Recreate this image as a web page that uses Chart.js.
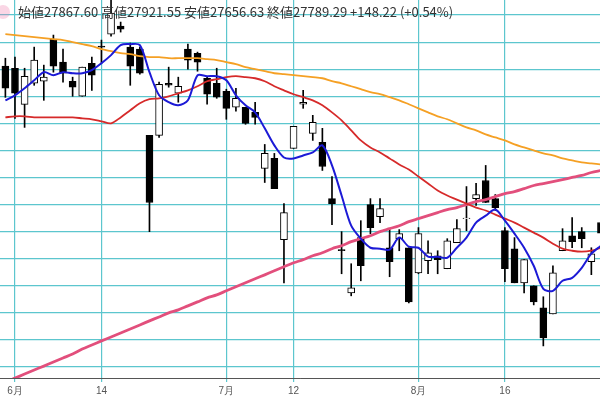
<!DOCTYPE html>
<html>
<head>
<meta charset="utf-8">
<script src="https://cdn.jsdelivr.net/npm/chart.js@4"></script>
<style>
  html, body { margin: 0; padding: 0; background: #fff; }
  #wrap { width: 600px; height: 400px; }
</style>
</head>
<body>
<div id="wrap"><canvas id="candleChart"></canvas></div>
<script>
// trading day index -1..61
const opens  = [29022,29007,28740,28896,28911,29222,29052,28911,28800,29044,29170,29259,29318,29163,29148,28511,28511,28896,28822,29148,29118,28933,28896,28837,28719,28719,28681,28267,28341,27741,28415,28741,28526,28459,28044,27667,27348,27756,28000,27911,27681,27748,27681,27496,27585,27622,27526,27718,27896,28044,28178,28044,27807,27674,27422,27400,27237,27193,27659,27770,27800,27578,27867.60];
const closes = [28859,28822,28948,29067,28941,29022,28970,28867,29015,28956,29163,29415,29296,29022,28970,28015,28889,28881,28874,29067,29052,28815,28793,28711,28785,28600,28644,28378,28118,27941,28578,28756,28607,28281,28007,27659,27385,27548,27830,27970,27578,27785,27281,27785,27644,27593,27733,27822,27901,28074,28015,27978,27526,27422,27593,27281,27015,27496,27733,27726,27748,27637,27789.29];
const highs  = [29081,29089,29007,29163,29030,29252,29148,28941,29015,29089,29215,29511,29348,29193,29163,28511,28904,29015,28941,29185,29126,28941,29007,28852,28859,28719,28756,28444,28378,28008,28578,28844,28659,28563,28207,27800,27563,27881,28044,28044,27815,27815,27681,27830,27733,27659,27748,27889,28133,28156,28289,28074,27830,27756,27593,27400,27319,27548,27822,27904,27830,27681,27921.55];
const lows   = [28792,28637,28570,28881,28770,28978,28904,28800,28800,28844,29044,29244,29274,28881,28963,27800,28496,28867,28756,29000,28985,28741,28785,28630,28689,28593,28593,28163,28118,27422,28415,28711,28474,28252,27852,27489,27326,27437,27785,27867,27467,27659,27274,27489,27489,27489,27526,27718,27807,27993,28015,27956,27430,27422,27348,27259,26956,27193,27659,27681,27681,27482,27656.63];
const ma5    = [28770,28807,28859,28918,28978,28955,28978,28970,28970,28993,29044,29104,29178,29185,29178,28978,28807,28756,28733,28770,28955,28948,28948,28918,28807,28733,28681,28563,28437,28348,28341,28363,28385,28437,28289,28067,27844,27748,27681,27674,27667,27756,27689,27681,27615,27615,27607,27681,27756,27867,27918,27963,27881,27785,27681,27548,27378,27363,27437,27459,27533,27637,27696];
const ma25   = [28644,28652,28652,28644,28644,28644,28644,28644,28637,28630,28615,28600,28644,28696,28748,28778,28785,28800,28822,28844,28874,28911,28926,28941,28948,28941,28933,28911,28874,28844,28815,28793,28770,28733,28681,28622,28548,28474,28422,28385,28341,28296,28259,28207,28156,28104,28067,28037,28007,27978,27956,27926,27896,27867,27830,27793,27756,27711,27674,27659,27652,27659,27681];
const ma75   = [29259,29252,29244,29237,29230,29222,29215,29200,29185,29170,29148,29133,29118,29111,29096,29089,29089,29081,29081,29081,29081,29074,29067,29052,29037,29015,29000,28985,28970,28963,28956,28948,28941,28933,28911,28896,28874,28852,28830,28815,28793,28770,28741,28711,28681,28652,28630,28600,28570,28548,28518,28496,28474,28444,28422,28400,28378,28363,28341,28326,28311,28304,28296];
const ma200  = [26689,26718,26748,26778,26807,26837,26867,26896,26933,26963,26993,27022,27052,27081,27111,27141,27170,27200,27222,27252,27281,27311,27333,27363,27393,27422,27452,27481,27511,27541,27570,27593,27622,27644,27674,27696,27726,27748,27770,27800,27822,27844,27874,27896,27918,27941,27963,27978,28000,28022,28037,28059,28081,28096,28118,28141,28155,28170,28185,28200,28215,28237,28252];
const firstIndex = -1;
const tickIndexes = [0, 9, 22, 29, 42, 51];
const tickLabels  = ['6月', '14', '7月', '12', '8月', '16'];
const yGridStart = 26800, yGridStep = 200, yGridEnd = 29400;
const headerText = '始値27867.60 高値27921.55 安値27656.63 終値27789.29 +148.22 (+0.54%)';

let wicks = [], bodies = [], bodyColors = [];
for (let i = 0; i < opens.length; i++) {
    let x = firstIndex + i;
    wicks.push({x: x, y: [lows[i], highs[i]]});
    let o = opens[i], c = closes[i];
    if (Math.abs(o - c) < 4) c = o + (c >= o ? 4 : -4);
    bodies.push({x: x, y: [o, c]});
    bodyColors.push(closes[i] >= opens[i] ? '#ffffff' : '#000000');
}
function lineData(arr) {
    return arr.map((v, i) => ({x: firstIndex + i, y: v}));
}
function maLine(arr, color, label, width) {
    return {
        type: 'line', label: label, data: lineData(arr), borderColor: color,
        borderWidth: width, pointRadius: 0, tension: 0.3, order: 0
    };
}
const gridCyan = '#5cc6ce';

const headerPlugin = {
    id: 'header',
    afterDraw(chart) {
        let ctx = chart.ctx;
        ctx.save();
        ctx.fillStyle = 'rgba(240,120,170,0.3)';
        ctx.beginPath();
        ctx.arc(3, 12, 7, 0, Math.PI * 2);
        ctx.fill();
        ctx.fillStyle = '#333';
        ctx.font = '13px "Noto Sans CJK JP", sans-serif';
        ctx.textBaseline = 'middle';
        ctx.fillText(headerText, 18, 12);
        ctx.restore();
    }
};

let ctx = document.getElementById('candleChart').getContext('2d');
let candleChart = new Chart(ctx, {
    type: 'bar',
    data: {
        datasets: [
            maLine(ma5, '#1c1ad6', 'MA5', 2),
            maLine(ma25, '#d62a2a', 'MA25', 1.8),
            maLine(ma75, '#f5a024', 'MA75', 1.8),
            maLine(ma200, '#e24f7c', 'MA200', 2.8),
            {label: 'body', data: bodies, backgroundColor: bodyColors, borderColor: '#000',
             borderWidth: 1, borderSkipped: false, barThickness: 7, grouped: false, order: 1},
            {label: 'wick', data: wicks, backgroundColor: '#000', barThickness: 1, grouped: false, order: 2}
        ]
    },
    options: {
        responsive: true, maintainAspectRatio: false, animation: false,
        layout: {padding: {left: 0, right: 0, top: 0, bottom: 0}},
        plugins: {legend: {display: false}, tooltip: {enabled: false}},
        scales: {
            x: {
                type: 'linear', min: -1.56, max: 60.9, offset: false,
                ticks: {
                    stepSize: 1, includeBounds: false, autoSkip: false, maxRotation: 0,
                    color: '#555', font: {size: 10},
                    callback: (v) => { let k = tickIndexes.indexOf(v); return k >= 0 ? tickLabels[k] : ''; }
                },
                grid: {
                    offset: false,
                    color: c => (c.tick && tickIndexes.includes(c.tick.value)) ? gridCyan : 'rgba(0,0,0,0)',
                    lineWidth: 1.2, tickLength: 4
                },
                border: {color: '#555', width: 1}
            },
            y: {
                min: 26719, max: 29511,
                afterBuildTicks: axis => {
                    let t = [];
                    for (let v = yGridStart; v <= yGridEnd; v += yGridStep) t.push({value: v});
                    axis.ticks = t;
                },
                ticks: {display: false},
                grid: {color: gridCyan, lineWidth: 1.2, drawTicks: false},
                border: {display: false}
            }
        }
    },
    plugins: [headerPlugin]
});
</script>
</body>
</html>
